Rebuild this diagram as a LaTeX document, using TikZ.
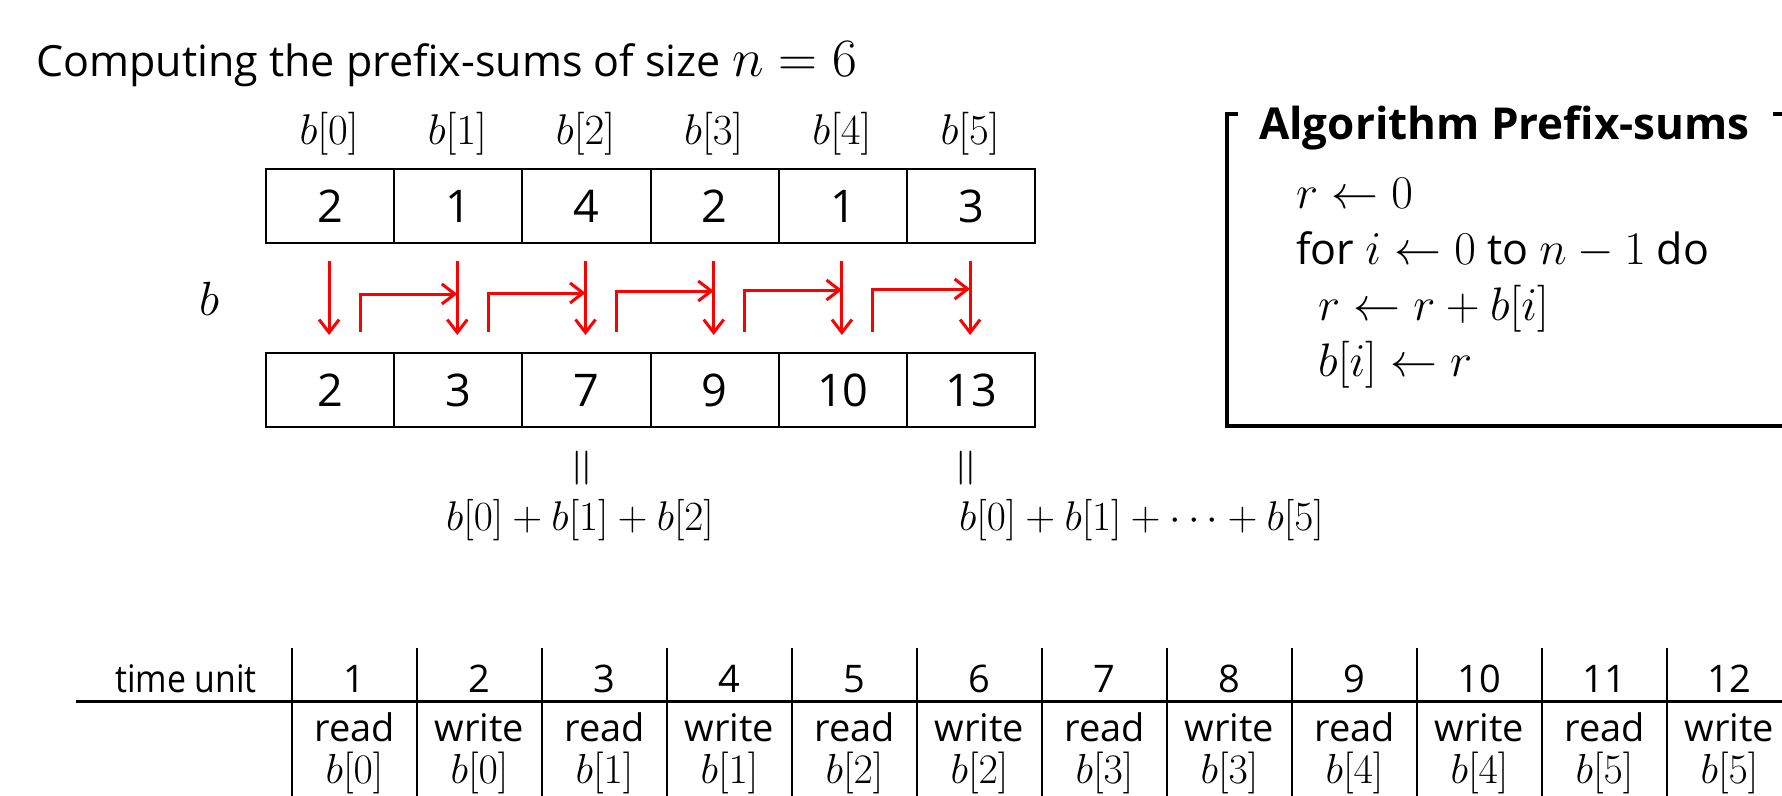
\RequirePackage{fix-cm}
\documentclass[tikz,border=0pt]{standalone}
\usepackage{fontspec}
\setmainfont{Open Sans}
\usetikzlibrary{arrows.meta}
\newcommand\myfs[1]{\fontsize{#1}{#1}\selectfont}
\newcommand\MM[2]{{\myfs{#1}$#2$}}
\begin{document}
\begin{tikzpicture}[x=1pt,y=-1pt,
  cell/.style={draw, line width=2pt, minimum width=128.2pt, minimum height=74pt, inner sep=0pt, anchor=north west, font=\myfs{45}},
  hdr/.style={anchor=base, inner sep=0pt, font=\myfs{43}},
  alg/.style={anchor=base west, inner sep=0pt, font=\myfs{43}},
  tbl/.style={anchor=base, inner sep=0pt, font=\myfs{38}},
  tblm/.style={anchor=base, inner sep=0pt, font=\myfs{42}},
  redarrow/.style={draw=red, line width=3pt, -{Straight Barb[length=13pt,width=20pt,line width=3pt]}},
  frame/.style={line width=4pt, line join=miter},
]
\useasboundingbox (0,0) rectangle (1782,795);
\clip (0,0) rectangle (1782,795);

% title
\node[anchor=base west, inner sep=0pt, font=\myfs{43}] (title) at (36,76) {Computing the prefix-sums of size \MM{54}{n=6}};

% arrays
\foreach \v [count=\i from 0] in {2,1,4,2,1,3} {
  \node[cell] (t\i) at ({265+128.2*\i},168) {\v};
  \node[hdr] (h\i) at ({265+128.2*(\i+0.5)},144) {$b[\i]$};
}
\foreach \v [count=\i from 0] in {2,3,7,9,10,13} {
  \node[cell] (u\i) at ({265+128.2*\i},352) {\v};
}
\node[anchor=base, inner sep=0pt, font=\myfs{48}] (blab) at (209,315) {$b$};

% red arrows
\foreach \i in {0,...,5} {
  \coordinate (ds\i) at ({265+128.2*(\i+0.5)},261);
  \coordinate (de\i) at ({265+128.2*(\i+0.5)},335);
  \draw[redarrow] (ds\i) -- (de\i);
}
\foreach \i/\yh in {0/294,1/293,2/291,3/290,4/289} {
  \pgfmathtruncatemacro\j{\i+1}
  \coordinate (ls\i) at ({265+128.2*(\i+0.5)+31},332);
  \coordinate (le\i) at ({265+128.2*(\j+0.5)},\yh);
  \draw[redarrow] (ls\i) |- (le\i);
}

% equalities below
\node[inner sep=0pt, font=\myfs{54}] (eqa) at (585.5,468) {\rotatebox{90}{$=$}};
\node[inner sep=0pt, font=\myfs{54}] (eqb) at (970,468) {\rotatebox{90}{$=$}};
\node[anchor=base, inner sep=0pt, font=\myfs{41.5}] (suma) at (580,530) {$b[0]+b[1]+b[2]$};
\node[anchor=base west, inner sep=0pt, font=\myfs{41.5}] (sumb) at (959,530) {$b[0]+b[1]+\cdots+b[5]$};

% algorithm box
\draw[frame] (1238,114) -- (1227,114) -- (1227,426) -- (1800,426);
\draw[frame] (1773,114) -- (1800,114);
\node[anchor=base west, inner sep=0pt, font=\myfs{44}\bfseries] (algt) at (1259,139) {Algorithm Prefix-sums};
\node[alg] (a1) at (1296,208) {\MM{47}{r\leftarrow 0}};
\node[alg] (a2) at (1296,264) {for \MM{47}{i\leftarrow 0} to \MM{47}{n-1} do};
\node[alg] (a3) at (1318,320) {\MM{47}{r\leftarrow r+b[i]}};
\node[alg] (a4) at (1318,376) {\MM{47}{b[i]\leftarrow r}};

% table
\draw[line width=3pt] (76,701) -- (1800,701);
\foreach \k in {0,...,11} {
  \coordinate (vt\k) at ({292+125*\k},648);
  \coordinate (vb\k) at ({292+125*\k},800);
  \draw[line width=2pt] (vt\k) -- (vb\k);
}
\node[anchor=base east, inner sep=0pt, font=\myfs{38}] (tu) at (257,692) {\scalebox{0.89}[1]{time unit}};
\foreach \k in {1,...,12} {
  \pgfmathtruncatemacro\m{int((\k-1)/2)}
  \pgfmathtruncatemacro\p{mod(\k,2)}
  \node[tbl] (n\k) at ({292+125*(\k-0.5)},692) {\k};
  \ifnum\p=1
    \node[tbl] (o\k) at ({292+125*(\k-0.5)},741) {read};
  \else
    \node[tbl] (o\k) at ({292+125*(\k-0.5)},741) {write};
  \fi
  \node[tblm] (r\k) at ({292+125*(\k-0.5)},783.5) {$b[\m]$};
}
\end{tikzpicture}
\end{document}
